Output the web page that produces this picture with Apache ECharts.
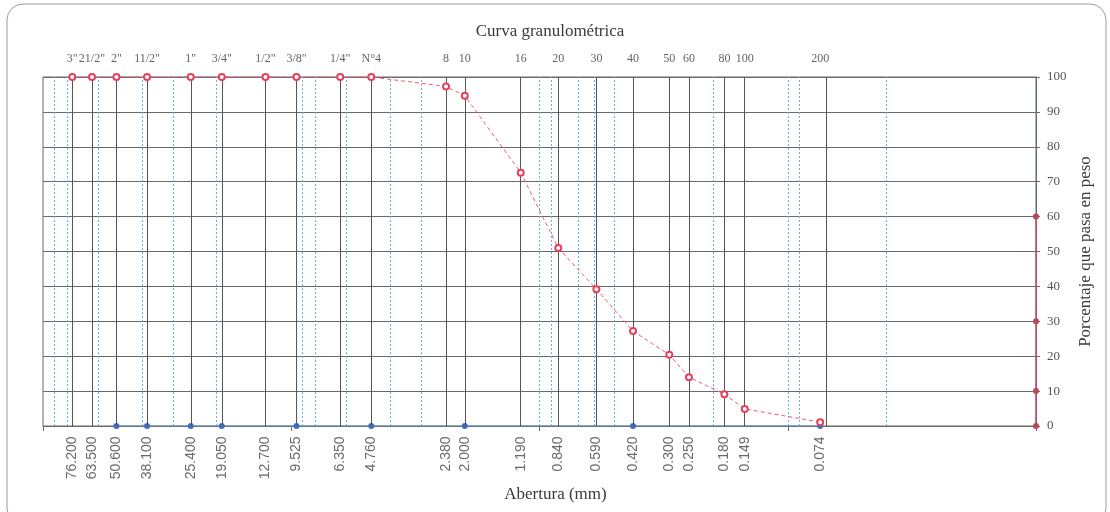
<!DOCTYPE html>
<html>
<head>
<meta charset="utf-8">
<title>Curva granulométrica</title>
<script src="https://cdn.jsdelivr.net/npm/echarts@6/dist/echarts.min.js"></script>
<style>
  html, body { margin: 0; padding: 0; background: #fff; }
  #chart { width: 1110px; height: 512px; }
</style>
</head>
<body>
<div id="chart"></div>
<script>
// tamices: abertura (mm), nombre y porcentaje que pasa
const aberturas = [76.2, 63.5, 50.6, 38.1, 25.4, 19.05, 12.7, 9.525, 6.35, 4.76, 2.38, 2.0, 1.19, 0.84, 0.59, 0.42, 0.3, 0.25, 0.18, 0.149, 0.074]
const tamices = ['3"', '21/2"', '2"', '11/2"', '1"', '3/4"', '1/2"', '3/8"', '1/4"', 'N°4', '8', '10', '16', '20', '30', '40', '50', '60', '80', '100', '200']
const pasa = [100, 100, 100, 100, 100, 100, 100, 100, 100, 100, 97.3, 94.6, 72.6, 51, 39.2, 27.2, 20.4, 14, 9.1, 4.9, 1.1]

// serie azul sobre el eje (tamices de la serie corta)
const serieCorta = [50.6, 38.1, 25.4, 19.05, 9.525, 4.76, 2.0, 0.42, 0.074]

// marcas rojas sobre el eje derecho
const ejeDerecho = [0, 10, 30, 60]

// lineas secundarias azules (las que se ven en la hoja)
const lineasMenores = [90, 80, 60, 40, 30, 20, 9, 8, 6, 4, 3, 1, 0.9, 0.7, 0.6, 0.5, 0.2, 0.1, 0.09, 0.07, 0.04]

const serif = '"Liberation Serif", "DejaVu Serif", serif'
const sans = '"Liberation Sans", Arial, sans-serif'

const myChart = echarts.init(document.getElementById('chart'))

const option = {
  animation: false,
  title: {
    text: 'Curva granulométrica',
    left: 545,
    top: 18,
    textAlign: 'center',
    textStyle: { fontFamily: serif, fontSize: 17, fontWeight: 'normal', color: '#3a3a3a' }
  },
  graphic: [
    {
      type: 'rect',
      shape: { x: 7, y: 4, width: 1099, height: 520, r: 16 },
      style: { fill: 'none', stroke: '#9a9a9a', lineWidth: 1 },
      silent: true,
      z: -1
    }
  ],
  grid: {
    left: 43,
    right: 74,
    top: 77,
    bottom: 86,
    show: true,
    borderColor: '#6a6a6a',
    borderWidth: 1
  },
  xAxis: {
    type: 'log',
    logBase: 10,
    min: 0.01,
    max: 100,
    inverse: true,
    name: 'Abertura (mm)',
    nameLocation: 'middle',
    nameGap: 60,
    nameTextStyle: { fontFamily: serif, fontSize: 17, color: '#3a3a3a', padding: [0, 0, 0, 32] },
    axisLine: { show: true, lineStyle: { color: '#6a6a6a' } },
    axisTick: { show: true, length: 5, lineStyle: { color: '#6a6a6a' } },
    axisLabel: { show: false },
    splitLine: { show: false }
  },
  yAxis: {
    type: 'value',
    position: 'right',
    min: 0,
    max: 100,
    interval: 10,
    name: 'Porcentaje que pasa en peso',
    nameLocation: 'middle',
    nameGap: 31,
    nameTextStyle: { fontFamily: serif, fontSize: 17, color: '#3a3a3a' },
    axisLine: { show: true, lineStyle: { color: '#5a6a80' } },
    axisTick: { show: true, length: 4, lineStyle: { color: '#5a6a80' } },
    axisLabel: { fontFamily: serif, fontSize: 13, color: '#555', margin: 11 },
    splitLine: { show: true, lineStyle: { color: '#6a6a6a', width: 1 } }
  },
  series: [
    // reticula: lineas secundarias (azules) y lineas de tamices (negras)
    {
      type: 'line',
      data: [],
      silent: true,
      markLine: {
        silent: true,
        symbol: ['none', 'none'],
        label: { show: false },
        lineStyle: { color: '#62b4ec', type: [2, 2], width: 1, opacity: 1 },
        emphasis: { disabled: true },
        data: lineasMenores.map(v => ({ xAxis: v }))
      }
    },
    {
      type: 'line',
      data: [],
      silent: true,
      markLine: {
        silent: true,
        symbol: ['none', 'none'],
        label: { show: false },
        lineStyle: { color: '#555', type: 'solid', width: 1, opacity: 1 },
        emphasis: { disabled: true },
        data: aberturas.map(v => ({ xAxis: v }))
      }
    },
    // etiquetas superiores (nombre del tamiz)
    {
      type: 'scatter',
      silent: true,
      clip: false,
      symbolSize: 1,
      itemStyle: { color: 'transparent' },
      label: {
        show: true,
        position: 'top',
        distance: 12,
        fontFamily: serif,
        fontSize: 12,
        color: '#3a3a3a',
        formatter: p => tamices[p.dataIndex]
      },
      data: aberturas.map(v => [v, 100]),
      z: 1
    },
    // etiquetas inferiores (abertura en mm)
    {
      type: 'scatter',
      silent: true,
      clip: false,
      symbolSize: 1,
      itemStyle: { color: 'transparent' },
      label: {
        show: true,
        position: 'bottom',
        distance: 10,
        rotate: 90,
        align: 'right',
        verticalAlign: 'middle',
        fontFamily: sans,
        fontSize: 14,
        color: '#444',
        formatter: p => aberturas[p.dataIndex].toFixed(3)
      },
      data: aberturas.map(v => [v, 0]),
      z: 1
    },
    // serie azul sobre el eje
    {
      type: 'line',
      silent: true,
      symbol: 'circle',
      symbolSize: 6,
      lineStyle: { color: '#5b9bd5', width: 1.2 },
      itemStyle: { color: '#3d6fc4' },
      data: serieCorta.map(v => [v, 0]),
      z: 3
    },
    // marcas sobre el eje derecho
    {
      type: 'line',
      silent: true,
      clip: false,
      symbol: 'circle',
      symbolSize: 6,
      lineStyle: { color: '#e0455e', width: 1.2 },
      itemStyle: { color: '#b8485a' },
      data: ejeDerecho.map(v => [0.01, v]),
      z: 4
    },
    // curva granulometrica
    {
      type: 'line',
      silent: true,
      clip: false,
      symbol: 'emptyCircle',
      symbolSize: 6,
      lineStyle: { color: '#ec5a72', width: 1, type: [4, 3] },
      itemStyle: { color: '#e8405c', borderWidth: 1.3 },
      data: aberturas.map((v, i) => [v, pasa[i]]),
      z: 5
    }
  ]
}

myChart.setOption(option)
</script>
</body>
</html>
